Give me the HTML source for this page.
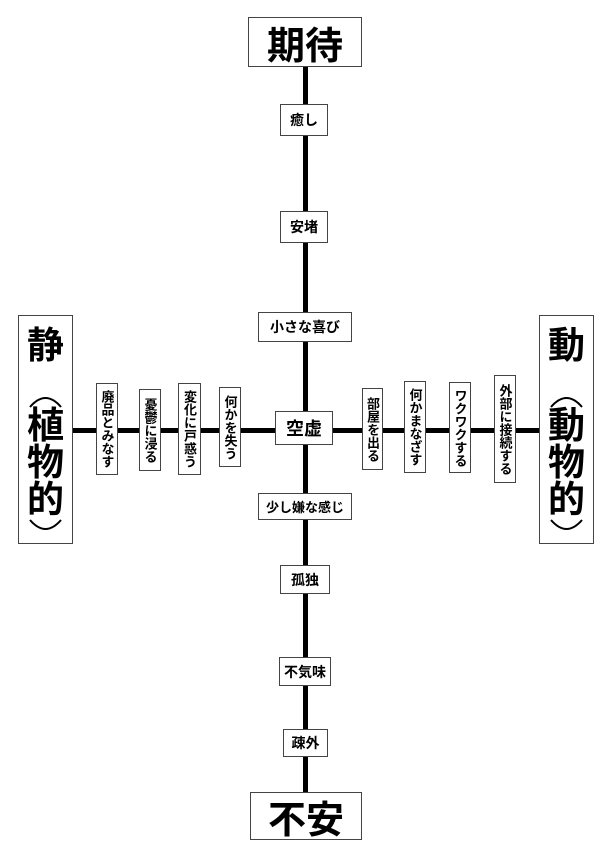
<!DOCTYPE html>
<html><head><meta charset="utf-8"><style>
body{margin:0;width:613px;height:859px;background:#fff;position:relative;overflow:hidden;font-family:"Liberation Sans","Noto Sans CJK JP",sans-serif;font-weight:bold;color:#000}
.b{position:absolute;background:#fff;border:1px solid #444;box-sizing:border-box;display:flex;align-items:center;justify-content:center;white-space:nowrap}
.s{font-size:14px}
.v{writing-mode:vertical-rl;font-size:13px;letter-spacing:0px}
.big{font-size:38px}
.line{position:absolute;background:#000}
.g{position:absolute;width:55px;text-align:center;font-size:37px;line-height:37px}
</style></head><body>
<div class="line" style="left:303px;top:66px;width:5px;height:727px"></div>
<div class="line" style="left:73px;top:428px;width:467px;height:5px"></div>

<div class="b big" style="left:248px;top:17px;width:114px;height:50px">期待</div>
<div class="b big" style="left:250px;top:792px;width:112px;height:48px">不安</div>

<div class="b s" style="left:280px;top:104px;width:48px;height:32px">癒し</div>
<div class="b s" style="left:280px;top:211px;width:48px;height:32px">安堵</div>
<div class="b s" style="left:258px;top:312px;width:94px;height:30px">小さな喜び</div>
<div class="b" style="left:275px;top:411px;width:58px;height:34px;font-size:18px">空虚</div>
<div class="b" style="left:258px;top:493px;width:94px;height:27px;font-size:13px">少し嫌な感じ</div>
<div class="b s" style="left:280px;top:565px;width:50px;height:29px">孤独</div>
<div class="b s" style="left:279px;top:657px;width:52px;height:29px">不気味</div>
<div class="b s" style="left:283px;top:729px;width:45px;height:28px">疎外</div>

<div class="b" style="left:18px;top:315px;width:55px;height:229px"></div>
<div class="b" style="left:539px;top:315px;width:55px;height:229px"></div>
<div class="g" style="left:18px;top:327px">静</div>
<div class="g" style="left:18px;top:407px">植</div>
<div class="g" style="left:18px;top:444px">物</div>
<div class="g" style="left:18px;top:481px">的</div>
<div class="g" style="left:539px;top:327px">動</div>
<div class="g" style="left:539px;top:407px">動</div>
<div class="g" style="left:539px;top:444px">物</div>
<div class="g" style="left:539px;top:481px">的</div>
<svg style="position:absolute;left:0;top:0" width="613" height="859" fill="none" stroke="#000" stroke-width="2">
<path d="M30 407 Q45.5 389 61 407"/><path d="M30 520 Q45.5 538 61 520"/>
<path d="M551 407 Q566.5 389 582 407"/><path d="M551 520 Q566.5 538 582 520"/>
</svg>

<div class="b" style="left:96px;top:383px;width:22px;height:92px"><span class="v">廃品とみなす</span></div>
<div class="b" style="left:139px;top:389px;width:22px;height:82px"><span class="v">憂鬱に浸る</span></div>
<div class="b" style="left:178px;top:383px;width:23px;height:92px"><span class="v">変化に戸惑う</span></div>
<div class="b" style="left:219px;top:387px;width:22px;height:80px"><span class="v">何かを失う</span></div>
<div class="b" style="left:362px;top:388px;width:21px;height:82px"><span class="v">部屋を出る</span></div>
<div class="b" style="left:404px;top:381px;width:22px;height:92px"><span class="v">何かまなざす</span></div>
<div class="b" style="left:449px;top:382px;width:22px;height:91px"><span class="v">ワクワクする</span></div>
<div class="b" style="left:494px;top:375px;width:22px;height:108px"><span class="v">外部に接続する</span></div>
</body></html>
